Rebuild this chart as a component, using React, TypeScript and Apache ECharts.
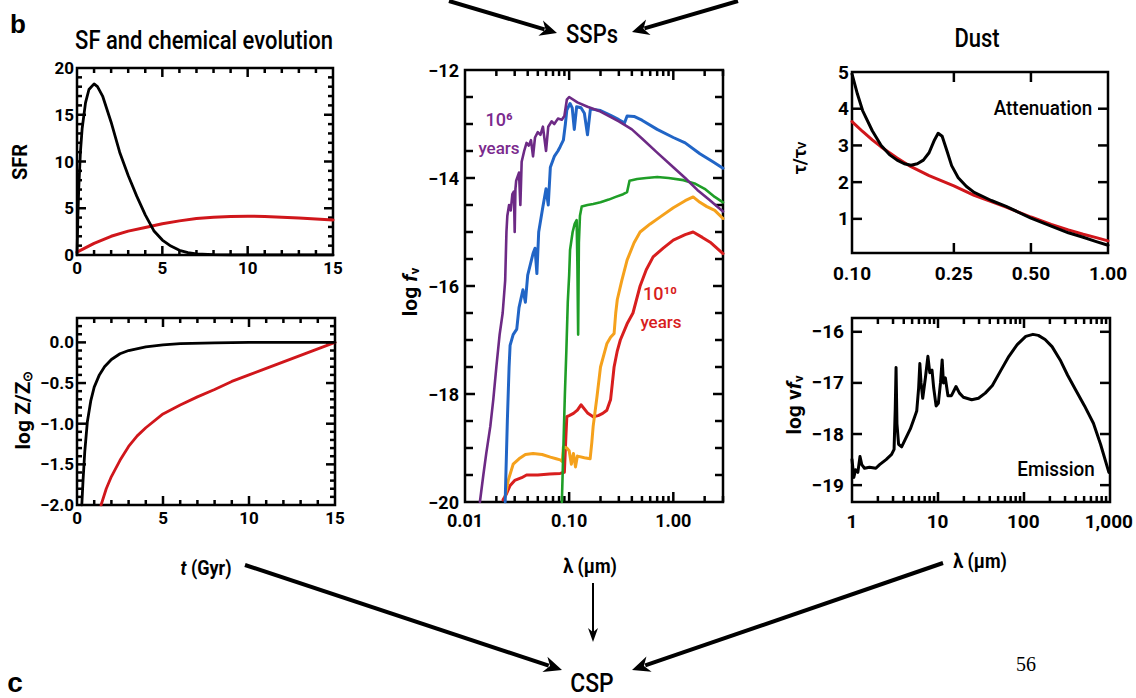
import React, { useEffect, useRef } from "react";
import * as echarts from "echarts";

const NARROW = "'Liberation Sans Narrow', Roboto, 'Liberation Sans', sans-serif";

// ---------- SF and chemical evolution ----------
// [t (Gyr), SFR]
const sfrBurst: [number, number][] = [
  [0, 0], [0.05, 4], [0.1, 7], [0.2, 11], [0.3, 13.5], [0.5, 16.3], [0.7, 17.7], [1.0, 18.3], [1.2, 18.0],
  [1.5, 17.0], [2.0, 14.2], [2.5, 11.0], [3.0, 8.5], [3.5, 6.3], [4.0, 4.3], [4.5, 2.6], [5.0, 1.6],
  [5.5, 0.95], [6.0, 0.5], [6.5, 0.25], [7.0, 0.12], [8.0, 0.03], [9.0, 0], [15, 0],
];
const sfrExtended: [number, number][] = [
  [0, 0.3], [1, 1.25], [2, 2.0], [3, 2.55], [4, 2.95], [5, 3.35], [6, 3.65], [7, 3.9], [8, 4.05],
  [9, 4.13], [10, 4.15], [11, 4.12], [12, 4.05], [13, 3.95], [14, 3.85], [15, 3.75],
];
// [t (Gyr), log Z/Zsun]
const zBurst: [number, number][] = [
  [0.28, -2.0], [0.35, -1.7], [0.45, -1.35], [0.6, -0.98], [0.8, -0.72], [1.0, -0.55], [1.3, -0.4],
  [1.6, -0.3], [2.0, -0.21], [2.5, -0.14], [3.0, -0.1], [4.0, -0.055], [5.0, -0.03], [6.0, -0.015],
  [8.0, -0.005], [10, 0], [15, 0],
];
const zExtended: [number, number][] = [
  [1.4, -2.0], [1.7, -1.8], [2.0, -1.65], [2.5, -1.45], [3.0, -1.28], [3.5, -1.15], [4.0, -1.05],
  [5.0, -0.88], [6.0, -0.77], [7.0, -0.67], [8.0, -0.58], [9.0, -0.48], [10, -0.4], [11, -0.32],
  [12, -0.24], [13, -0.16], [14, -0.08], [15, 0],
];

// ---------- SSPs: [lambda (um), log f_nu] ----------
const ssp1e6: [number, number][] = [
  [0.0139, -20], [0.015, -19.5], [0.016, -19.1], [0.0175, -18.6], [0.0187, -18.1], [0.02, -17.5],
  [0.0215, -16.9], [0.023, -16.5], [0.0243, -15.9], [0.025, -15.0], [0.0255, -14.7], [0.0265, -14.5],
  [0.0275, -14.6], [0.0285, -14.3], [0.0295, -14.25], [0.03, -15.0], [0.0305, -14.2], [0.031, -14.05],
  [0.033, -13.9], [0.034, -14.5], [0.035, -13.7], [0.037, -13.5], [0.039, -13.35], [0.041, -13.4],
  [0.043, -13.3], [0.045, -13.6], [0.047, -13.25], [0.05, -13.15], [0.053, -13.2], [0.056, -13.05],
  [0.06, -13.5], [0.063, -13.05], [0.068, -12.95], [0.072, -13.0], [0.078, -12.9], [0.085, -12.92],
  [0.09, -12.85], [0.095, -12.55], [0.1, -12.5], [0.12, -12.6], [0.15, -12.68], [0.2, -12.77],
  [0.3, -12.95], [0.35, -13.03], [0.4, -13.1], [0.5, -13.27], [0.7, -13.53], [1.0, -13.8], [1.3, -14.0],
  [1.7, -14.22], [2.2, -14.4], [3.0, -14.62],
];
const ssp1e7: [number, number][] = [
  [0.0243, -20], [0.0255, -18.5], [0.0265, -17.5], [0.0271, -17.1], [0.029, -16.9], [0.0314, -16.8],
  [0.033, -16.4], [0.036, -16.07], [0.038, -16.3], [0.04, -15.8], [0.045, -15.4], [0.047, -15.3],
  [0.049, -15.77], [0.051, -15.0], [0.056, -14.53], [0.06, -14.2], [0.063, -14.5], [0.066, -13.8],
  [0.072, -13.6], [0.078, -13.5], [0.082, -13.42], [0.088, -13.3], [0.092, -13.0], [0.095, -12.74],
  [0.102, -12.62], [0.107, -12.7], [0.112, -13.1], [0.118, -12.68], [0.13, -12.7], [0.14, -12.8],
  [0.15, -13.2], [0.16, -12.72], [0.2, -12.75], [0.25, -12.84], [0.3, -12.92], [0.34, -12.98],
  [0.36, -12.85], [0.42, -12.86], [0.5, -12.93], [0.7, -13.1], [1.0, -13.25], [1.3, -13.35],
  [1.8, -13.55], [2.4, -13.7], [3.0, -13.82],
];
const ssp1e8: [number, number][] = [
  [0.0851, -20], [0.088, -19], [0.091, -18], [0.094, -17.2], [0.097, -16.3], [0.1, -15.8], [0.102, -15.33],
  [0.108, -15.0], [0.113, -14.85], [0.118, -14.78], [0.12, -15.6], [0.122, -16.9], [0.124, -15.2],
  [0.127, -14.7], [0.132, -14.53], [0.15, -14.5], [0.17, -14.48], [0.2, -14.45], [0.24, -14.4],
  [0.28, -14.35], [0.33, -14.3], [0.36, -14.26], [0.38, -14.05], [0.45, -14.02], [0.55, -14.0],
  [0.7, -13.98], [0.9, -14.0], [1.25, -14.04], [1.6, -14.1], [2.0, -14.2], [2.5, -14.35], [3.0, -14.45],
];
const ssp1e9: [number, number][] = [
  [0.0243, -19.9], [0.026, -19.6], [0.029, -19.3], [0.033, -19.2], [0.038, -19.12], [0.045, -19.1],
  [0.055, -19.12], [0.066, -19.17], [0.075, -19.2], [0.082, -19.22], [0.086, -19.25], [0.088, -18.98],
  [0.095, -19.0], [0.1, -19.05], [0.105, -19.3], [0.11, -19.1], [0.115, -19.35], [0.12, -19.15],
  [0.14, -19.18], [0.159, -19.2], [0.165, -18.9], [0.17, -18.6], [0.185, -18.05], [0.2, -17.5],
  [0.23, -17.07], [0.25, -16.95], [0.27, -16.88], [0.28, -16.5], [0.29, -16.25], [0.32, -15.9],
  [0.36, -15.52], [0.42, -15.2], [0.48, -15.0], [0.6, -14.85], [0.75, -14.72], [1.0, -14.55],
  [1.3, -14.42], [1.55, -14.35], [1.8, -14.45], [2.1, -14.53], [2.5, -14.6], [3.0, -14.75],
];
const ssp1e10: [number, number][] = [
  [0.0232, -19.96], [0.025, -19.85], [0.027, -19.7], [0.03, -19.6], [0.035, -19.55], [0.039, -19.5],
  [0.05, -19.5], [0.065, -19.48], [0.082, -19.47], [0.09, -19.45], [0.093, -18.8], [0.095, -18.42],
  [0.1, -18.4], [0.11, -18.36], [0.12, -18.3], [0.13, -18.2], [0.15, -18.35], [0.17, -18.42],
  [0.19, -18.4], [0.21, -18.36], [0.23, -18.3], [0.25, -18.1], [0.26, -17.8], [0.27, -17.5],
  [0.29, -17.2], [0.31, -17.0], [0.36, -16.7], [0.41, -16.5], [0.48, -16.0], [0.55, -15.7],
  [0.64, -15.46], [0.8, -15.3], [1.0, -15.15], [1.3, -15.05], [1.55, -15.0], [1.9, -15.1],
  [2.3, -15.2], [3.0, -15.4],
];

// ---------- Dust ----------
// attenuation [lambda (um), tau/tau_V]
const attBump: [number, number][] = [
  [0.1, 4.95], [0.105, 4.4], [0.11, 3.95], [0.12, 3.4], [0.13, 3.0], [0.14, 2.75], [0.15, 2.6],
  [0.16, 2.5], [0.17, 2.46], [0.18, 2.5], [0.19, 2.6], [0.2, 2.8], [0.21, 3.15], [0.217, 3.33],
  [0.225, 3.25], [0.235, 2.85], [0.245, 2.45], [0.26, 2.12], [0.28, 1.88], [0.3, 1.72], [0.35, 1.5],
  [0.4, 1.34], [0.5, 1.02], [0.6, 0.8], [0.7, 0.62], [0.8, 0.5], [0.9, 0.38], [1.0, 0.28],
];
const attPowerLaw: [number, number][] = [
  [0.1, 3.65], [0.11, 3.38], [0.12, 3.15], [0.13, 2.96], [0.15, 2.66], [0.17, 2.42], [0.2, 2.18],
  [0.25, 1.9], [0.3, 1.64], [0.35, 1.47], [0.4, 1.32], [0.5, 1.05], [0.6, 0.85], [0.7, 0.7],
  [0.8, 0.58], [0.9, 0.49], [1.0, 0.4],
];
// emission [lambda (um), log nu f_nu]
const dustEmission: [number, number][] = [
  [1.0, -18.5], [1.05, -18.85], [1.1, -18.7], [1.17, -18.75], [1.24, -18.44], [1.3, -18.6], [1.4, -18.67],
  [1.6, -18.65], [1.9, -18.67], [2.1, -18.6], [2.5, -18.5], [2.9, -18.4], [3.1, -18.3], [3.2, -17.5],
  [3.27, -16.7], [3.35, -17.8], [3.5, -18.2], [3.8, -18.25], [4.2, -18.1], [4.8, -17.9], [5.3, -17.7],
  [5.7, -17.55], [6.0, -17.1], [6.2, -16.62], [6.4, -17.0], [6.7, -17.3], [7.2, -16.9], [7.7, -16.48],
  [8.1, -16.8], [8.6, -16.75], [9.0, -17.1], [9.6, -17.45], [10.2, -17.4], [10.8, -17.0], [11.3, -16.55],
  [11.7, -17.0], [12.3, -16.9], [13.2, -17.25], [14.5, -17.25], [16.4, -17.07], [18, -17.2], [20, -17.28],
  [25, -17.33], [30, -17.3], [36, -17.2], [43.6, -17.05], [55, -16.75], [68, -16.48], [85, -16.25],
  [107, -16.09], [130, -16.05], [150, -16.07], [180, -16.15], [217, -16.29], [270, -16.55], [330, -16.85],
  [410, -17.14], [520, -17.45], [660, -17.79], [800, -18.2], [1000, -18.75],
];

// ---------- tick values ----------
const tMajor = [5, 10];
const tMinor = [1, 2, 3, 4, 6, 7, 8, 9, 11, 12, 13, 14];
const tLabels = [0, 5, 10, 15];
const sfrMajor = [5, 10, 15];
const sfrMinor = [1, 2, 3, 4, 6, 7, 8, 9, 11, 12, 13, 14, 16, 17, 18, 19];
const sfrLabels = [0, 5, 10, 15, 20];
const zMajor = [-1.5, -1, -0.5, 0];
const zMinor = [-1.9, -1.8, -1.7, -1.6, -1.4, -1.3, -1.2, -1.1, -0.9, -0.8, -0.7, -0.6, -0.4, -0.3, -0.2, -0.1, 0.1, 0.2];
const zLabels = [-2, -1.5, -1, -0.5, 0];
const sspLamMajor = [0.1, 1];
const sspLamMinor = [0.02, 0.03, 0.04, 0.05, 0.06, 0.07, 0.08, 0.09, 0.2, 0.3, 0.4, 0.5, 0.6, 0.7, 0.8, 0.9, 2, 3];
const sspLamLabels = [0.01, 0.1, 1];
const sspFluxMajor = [-18, -16, -14];
const sspFluxMinor = [-19.5, -19, -18.5, -17.5, -17, -16.5, -15.5, -15, -14.5, -13.5, -13, -12.5];
const sspFluxLabels = [-20, -18, -16, -14, -12];
const attLamMajor = [0.25, 0.5];
const attLamLabels = [0.1, 0.25, 0.5, 1.0];
const attTauMajor = [1, 2, 3, 4];
const attTauLabels = [1, 2, 3, 4, 5];
const emLamMajor = [10, 100];
const emLamMinor = [2, 3, 4, 5, 6, 7, 8, 9, 20, 30, 40, 50, 60, 70, 80, 90, 200, 300, 400, 500, 600, 700, 800, 900];
const emLamLabels = [1, 10, 100, 1000];
const emFluxMajor = [-19, -18, -17, -16];
const emFluxLabels = [-19, -18, -17, -16];

const lg = (v: number) => Math.log10(v);
const logPairs = (d: [number, number][]) => d.map(([x, y]) => [lg(x), y]);
const neg = (s: string) => s.replace("-", "\u2212");

type Panel = {
  box: { left: number; top: number; width: number; height: number };
  xMin: number; xMax: number; yMin: number; yMax: number;
  xLabels: number[]; yLabels: number[];
  xFmt: (v: number) => string; yFmt: (v: number) => string;
  xMajor: number[]; xMinor: number[]; yMajor: number[]; yMinor: number[];
  fontSize: number; xMargin: number; yMargin: number; majLen: number; minLen: number; yMinLen?: number;
};

const intFmt = (v: number) => String(Math.round(v));
const f1 = (v: number) => neg(v.toFixed(1));
const f0 = (v: number) => neg(String(Math.round(v)));
const pow2 = (v: number) => Math.pow(10, v).toFixed(2);
const comma = (v: number) => Math.round(Math.pow(10, v)).toString().replace(/\B(?=(\d{3})+(?!\d))/g, ",");

const panels: Panel[] = [
  {
    box: { left: 77, top: 68, width: 256, height: 187 },
    xMin: 0, xMax: 15, yMin: 0, yMax: 20, xLabels: tLabels, yLabels: sfrLabels, xFmt: intFmt, yFmt: intFmt,
    xMajor: tMajor, xMinor: tMinor, yMajor: sfrMajor, yMinor: sfrMinor,
    fontSize: 17, xMargin: 4, yMargin: 3, majLen: 9, minLen: 5,
  },
  {
    box: { left: 77, top: 318, width: 258, height: 187 },
    xMin: 0, xMax: 15, yMin: -2, yMax: 0.3, xLabels: tLabels, yLabels: zLabels, xFmt: intFmt, yFmt: f1,
    xMajor: tMajor, xMinor: tMinor, yMajor: zMajor, yMinor: zMinor,
    fontSize: 17, xMargin: 4, yMargin: 3, majLen: 9, minLen: 5,
  },
  {
    box: { left: 465, top: 70, width: 258, height: 432 },
    xMin: -2, xMax: lg(3), yMin: -20, yMax: -12, xLabels: sspLamLabels.map(lg), yLabels: sspFluxLabels,
    xFmt: pow2, yFmt: f0,
    xMajor: sspLamMajor.map(lg), xMinor: sspLamMinor.map(lg), yMajor: sspFluxMajor, yMinor: sspFluxMinor,
    fontSize: 18, xMargin: 9, yMargin: 6, majLen: 10, minLen: 6, yMinLen: 8,
  },
  {
    box: { left: 852, top: 72, width: 256, height: 181 },
    xMin: -1, xMax: 0, yMin: 0.07, yMax: 5, xLabels: attLamLabels.map(lg), yLabels: attTauLabels,
    xFmt: pow2, yFmt: intFmt,
    xMajor: attLamMajor.map(lg), xMinor: [], yMajor: attTauMajor, yMinor: [],
    fontSize: 19, xMargin: 11, yMargin: 3, majLen: 10, minLen: 5,
  },
  {
    box: { left: 852, top: 318, width: 258, height: 184 },
    xMin: 0, xMax: 3, yMin: -19.33, yMax: -15.73, xLabels: emLamLabels.map(lg), yLabels: emFluxLabels,
    xFmt: comma, yFmt: f0,
    xMajor: emLamMajor.map(lg), xMinor: emLamMinor.map(lg), yMajor: emFluxMajor, yMinor: [],
    fontSize: 19, xMargin: 10, yMargin: 8, majLen: 10, minLen: 6,
  },
];

function axes(g: number, p: Panel) {
  const common = {
    type: "value", gridIndex: g, splitLine: { show: false },
    axisLine: { show: false, onZero: false }, axisTick: { show: false },
  };
  const lab = (vals: number[], fmt: (v: number) => string, margin: number) => ({
    show: true, customValues: vals, formatter: (v: number) => fmt(v), color: "#000",
    fontFamily: NARROW, fontWeight: "bold", fontSize: p.fontSize, margin,
  });
  return {
    x: { ...common, position: "bottom", min: p.xMin, max: p.xMax, axisLabel: lab(p.xLabels, p.xFmt, p.xMargin) },
    y: { ...common, position: "left", min: p.yMin, max: p.yMax, axisLabel: lab(p.yLabels, p.yFmt, p.yMargin) },
  };
}

// frame and inward ticks on all four sides, one group per panel, using each grid's linear value mapping
function frameGraphics() {
  return panels.map((p) => {
    const { left, top, width, height } = p.box;
    const X = (x: number) => left + ((x - p.xMin) / (p.xMax - p.xMin)) * width;
    const Y = (y: number) => top + height - ((y - p.yMin) / (p.yMax - p.yMin)) * height;
    const children: any[] = [
      {
        type: "rect", shape: { x: left, y: top, width, height },
        style: { fill: null, stroke: "#000", lineWidth: 2.5 },
      },
    ];
    const seg = (x1: number, y1: number, x2: number, y2: number) =>
      children.push({ type: "line", shape: { x1, y1, x2, y2 }, style: { stroke: "#000", lineWidth: 2.5 } });
    const addX = (v: number, len: number) => {
      const x = X(v);
      seg(x, top + height, x, top + height - len);
      seg(x, top, x, top + len);
    };
    const addY = (v: number, len: number) => {
      const y = Y(v);
      seg(left, y, left + len, y);
      seg(left + width, y, left + width - len, y);
    };
    p.xMajor.forEach((v) => addX(v, p.majLen));
    p.xMinor.forEach((v) => addX(v, p.minLen));
    p.yMajor.forEach((v) => addY(v, p.majLen));
    p.yMinor.forEach((v) => addY(v, p.yMinLen ?? p.minLen));
    return { type: "group", silent: true, children };
  });
}

function arrow(x1: number, y1: number, x2: number, y2: number, lw: number, hl: number, hw: number) {
  const dx = x2 - x1, dy = y2 - y1, L = Math.hypot(dx, dy), ux = dx / L, uy = dy / L;
  const bx = x2 - ux * hl, by = y2 - uy * hl, px = -uy, py = ux;
  return [
    { type: "line", shape: { x1, y1, x2: bx + ux * 4, y2: by + uy * 4 }, style: { stroke: "#000", lineWidth: lw } },
    {
      type: "polygon",
      shape: {
        points: [[x2, y2], [bx + px * hw, by + py * hw], [bx + ux * hl * 0.3, by + uy * hl * 0.3], [bx - px * hw, by - py * hw]],
      },
      style: { fill: "#000" },
    },
  ];
}

function txt(text: string, x: number, y: number, size: number, o: any = {}) {
  return {
    type: "text", x, y, rotation: o.rot || 0, scaleX: o.sx || 1, scaleY: o.sy || 1, z: 100,
    style: {
      text, fill: o.color || "#000", fontSize: size, fontFamily: o.family || NARROW,
      fontWeight: o.weight || "normal", fontStyle: o.italic ? "italic" : "normal",
      textAlign: "center", textVerticalAlign: "middle", align: "center", verticalAlign: "middle",
      rich: o.rich,
    },
  };
}

function decorations() {
  const subRich = { s: { fontSize: 13, fontFamily: NARROW, fontWeight: "bold", verticalAlign: "bottom" } };
  const itRich = { fontStyle: "italic", fontWeight: "bold", fontSize: 21, fontFamily: NARROW };
  return [
    ...frameGraphics(),
    txt("b", 18, 24, 26, { weight: "bold", family: "'Liberation Sans', Arial, sans-serif" }),
    txt("c", 15, 682, 28, { weight: "bold", family: "'Liberation Sans', Arial, sans-serif" }),
    txt("SF and chemical evolution", 204, 41, 25, { sx: 0.88, weight: 500 }),
    txt("SSPs", 592, 35, 25, { sx: 0.88, weight: 500 }),
    txt("Dust", 977, 39, 25, { sx: 0.88, weight: 500 }),
    txt("CSP", 592, 683, 26, { sx: 0.88, weight: 500 }),
    txt("56", 1026, 664, 20, { family: "'Liberation Serif', 'DejaVu Serif', serif" }),
    txt("{it|t} (Gyr)", 206, 568, 20, { weight: "bold", sx: 0.9, rich: { it: { ...itRich, fontSize: 20 } } }),
    txt("\u03bb (\u03bcm)", 590, 566, 20, { weight: "bold", sx: 0.9 }),
    txt("\u03bb (\u03bcm)", 980, 561, 20, { weight: "bold", sx: 0.9 }),
    txt("SFR", 20, 162, 20, { weight: "bold", rot: Math.PI / 2 }),
    txt("log Z/Z{s|\u2299}", 23, 410, 21, { weight: "bold", rot: Math.PI / 2, rich: subRich }),
    txt("log {i|f}{s|\u03bd}", 410, 292, 21, { weight: "bold", rot: Math.PI / 2, rich: { ...subRich, i: itRich } }),
    txt("\u03c4/\u03c4{s|V}", 799, 158, 18, { weight: "bold", rot: Math.PI / 2, rich: { s: { fontSize: 11, fontFamily: NARROW, fontWeight: "bold", verticalAlign: "bottom" } } }),
    txt("log \u03bd{i|f}{s|\u03bd}", 794, 405, 21, { weight: "bold", rot: Math.PI / 2, rich: { ...subRich, i: itRich } }),
    txt("Attenuation", 1043, 108, 21, { sx: 0.9, weight: 500 }),
    txt("Emission", 1056, 469, 21, { sx: 0.9, weight: 500 }),
    txt("10\u2076", 499, 119, 18, { color: "#7b2a8e", weight: 500 }),
    txt("years", 499, 148, 17, { color: "#7b2a8e", weight: 500 }),
    txt("10\u00b9\u2070", 660, 293, 18, { color: "#d81e1e", weight: 500 }),
    txt("years", 661, 322, 17, { color: "#d81e1e", weight: 500 }),
    ...arrow(449, 1, 557, 33, 4, 17, 8),
    ...arrow(738, 1, 632, 32, 4, 17, 8),
    ...arrow(245, 565, 562, 670, 4, 18, 8),
    ...arrow(593, 583, 593, 642, 2, 14, 5),
    ...arrow(943, 563, 632, 670, 4, 18, 8),
  ];
}

function buildOption() {
  const grids = panels.map((p) => ({ ...p.box, show: false }));
  const axs = panels.map((p, i) => axes(i, p));
  const xAxis = axs.map((a) => a.x);
  const yAxis = axs.map((a) => a.y);

  const line = (g: number, data: any[], color: string, width: number, z = 2) => ({
    type: "line", xAxisIndex: g, yAxisIndex: g, data, showSymbol: false, symbol: "none",
    silent: true, z, lineStyle: { color, width, join: "round", cap: "round" },
  });

  const series: any[] = [
    line(0, sfrBurst, "#000", 2.8, 3),
    line(0, sfrExtended, "#d0161b", 3),
    line(1, zBurst, "#000", 2.8, 3),
    line(1, zExtended, "#d0161b", 2.8),
    line(2, logPairs(ssp1e10), "#d81e1e", 3),
    line(2, logPairs(ssp1e9), "#f5a11c", 3),
    line(2, logPairs(ssp1e8), "#1f9e27", 2.6),
    line(2, logPairs(ssp1e7), "#2165c6", 3),
    line(2, logPairs(ssp1e6), "#6d2a85", 2.6),
    line(3, logPairs(attPowerLaw), "#d0161b", 3),
    line(3, logPairs(attBump), "#000", 3, 3),
    line(4, logPairs(dustEmission), "#000", 3),
  ];

  return { animation: false, backgroundColor: "#fff", grid: grids, xAxis, yAxis, series, graphic: decorations() };
}

export default function App() {
  const ref = useRef<HTMLDivElement>(null);
  useEffect(() => {
    const chart = echarts.init(ref.current!, null, { renderer: "svg" });
    chart.setOption(buildOption() as any);
    return () => chart.dispose();
  }, []);
  return (
    <div
      ref={ref}
      style={{ position: "absolute", left: 0, top: 0, width: 1136, height: 698, background: "#fff" }}
    />
  );
}
